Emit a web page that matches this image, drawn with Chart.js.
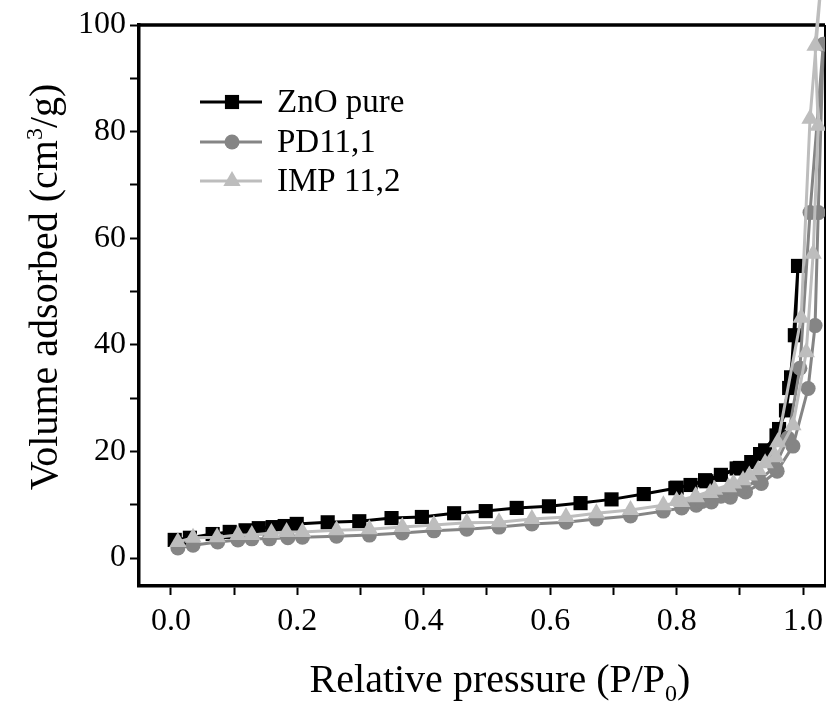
<!DOCTYPE html>
<html>
<head>
<meta charset="utf-8">
<script src="https://cdn.jsdelivr.net/npm/chart.js@4.4.0/dist/chart.umd.min.js"></script>
<style>
html, body { margin: 0; padding: 0; background: #fff; }
#wrap { position: relative; width: 835px; height: 702px; }
</style>
</head>
<body>
<div id="wrap"><canvas id="chart" width="835" height="702"></canvas></div>
<script>
'use strict';

// isotherm data: adsorption branch followed by desorption branch
const seriesNames = ['ZnO pure', 'PD11,1', 'IMP 11,2'];

const znoP = [0.006, 0.030, 0.066, 0.093, 0.118, 0.139, 0.161, 0.180, 0.199, 0.248,
    0.298, 0.349, 0.397, 0.448, 0.498, 0.547, 0.598, 0.648, 0.697, 0.748,
    0.798, 0.847, 0.900, 0.932, 0.958, 0.973, 0.981, 0.992,
    0.987, 0.978, 0.962, 0.940, 0.918, 0.895, 0.870, 0.845, 0.822, 0.800];
const znoV = [3.4, 3.8, 4.5, 4.9, 5.2, 5.6, 5.8, 6.0, 6.4, 6.7,
    6.9, 7.5, 7.7, 8.4, 8.8, 9.4, 9.7, 10.3, 11.0, 12.0,
    13.1, 14.4, 16.9, 19.5, 23.0, 27.7, 33.9, 54.8,
    41.8, 31.9, 24.2, 20.2, 18.0, 16.8, 15.6, 14.6, 13.7, 13.2];

const pdP = [0.011, 0.035, 0.074, 0.106, 0.128, 0.156, 0.185, 0.208, 0.262, 0.314,
    0.366, 0.416, 0.468, 0.519, 0.571, 0.625, 0.673, 0.727, 0.779, 0.808,
    0.831, 0.855, 0.885, 0.909, 0.934, 0.959, 0.984, 1.008, 1.019, 1.024, 1.032,
    1.011, 0.995, 0.976, 0.955, 0.930, 0.900, 0.870, 0.840, 0.810];
const pdV = [1.9, 2.4, 3.0, 3.4, 3.6, 3.6, 3.8, 3.9, 4.1, 4.3,
    4.7, 5.1, 5.4, 5.8, 6.4, 6.7, 7.3, 7.9, 8.8, 9.4,
    9.9, 10.5, 11.4, 12.4, 14.0, 16.3, 21.0, 31.8, 43.6, 64.8, 96.4,
    64.8, 35.6, 22.5, 17.0, 14.6, 12.9, 11.6, 10.6, 9.8];

const impP = [0.011, 0.035, 0.073, 0.106, 0.128, 0.159, 0.183, 0.208, 0.262, 0.314,
    0.366, 0.416, 0.468, 0.519, 0.571, 0.625, 0.673, 0.727, 0.779, 0.808,
    0.831, 0.853, 0.882, 0.905, 0.929, 0.957, 0.984, 1.005, 1.016, 1.024, 1.019, 1.030,
    1.011, 0.997, 0.960, 0.940, 0.915, 0.890, 0.860, 0.830, 0.800];
const impV = [3.0, 3.8, 3.9, 4.3, 4.3, 4.7, 4.9, 4.9, 5.2, 5.4,
    5.8, 6.2, 6.6, 6.7, 7.3, 7.7, 8.4, 9.0, 9.9, 10.5,
    11.4, 12.2, 13.3, 14.6, 16.5, 18.9, 24.9, 38.6, 57.1, 81.1, 96.1, 110,
    82.4, 45.1, 21.7, 17.8, 15.5, 14.0, 12.8, 11.6, 10.7];

const xTickValues = [0, 0.1, 0.2, 0.3, 0.4, 0.5, 0.6, 0.7, 0.8, 0.9, 1.0];
const xTickLabels = ['0.0', '', '0.2', '', '0.4', '', '0.6', '', '0.8', '', '1.0'];
const yTickValues = [0, 10, 20, 30, 40, 50, 60, 70, 80, 90, 100];
const yTickLabels = ['0', '', '20', '', '40', '', '60', '', '80', '', '100'];

const serif = "'Liberation Serif', 'Times New Roman', serif";

function toPoints (p, v)
{
    return p.map((x, i) => ({x, y: v[i]}));
}

const styles = [
    {color: '#000000', pointStyle: 'rect', radius: 10},
    {color: '#858585', pointStyle: 'circle', radius: 7.5},
    {color: '#bdbdbd', pointStyle: 'triangle', radius: 10}
];

function drawRich (ctx, parts, x, y, size)
{
    // parts: [{t, sub, sup}] - centered on x
    let total = 0;
    const widths = parts.map((p) =>
    {
        ctx.font = (p.sub || p.sup ? size * 0.6 : size) + 'px ' + serif;
        const w = ctx.measureText(p.t).width;
        total += w;
        return w;
    });
    let cx = x - total / 2;
    parts.forEach((p, i) =>
    {
        ctx.font = (p.sub || p.sup ? size * 0.6 : size) + 'px ' + serif;
        const dy = p.sub ? size * 0.22 : (p.sup ? -size * 0.38 : 0);
        ctx.fillText(p.t, cx, y + dy);
        cx += widths[i];
    });
}

const decorations = {
    id: 'decorations',
    beforeDatasetsDraw (chart)
    {
        const {ctx, chartArea: a} = chart;
        ctx.save();
        ctx.strokeStyle = '#000';
        ctx.lineWidth = 3.5;
        ctx.beginPath();
        ctx.moveTo(a.left - 1.75, a.top);
        ctx.lineTo(a.right, a.top);
        ctx.stroke();
        ctx.lineWidth = 2;
        ctx.beginPath();
        ctx.moveTo(a.right, a.top);
        ctx.lineTo(a.right, a.bottom);
        ctx.stroke();
        ctx.restore();
    },
    afterDraw (chart)
    {
        const {ctx} = chart;
        ctx.save();
        ctx.fillStyle = '#000';
        ctx.textAlign = 'left';
        ctx.textBaseline = 'alphabetic';

        // axis titles
        drawRich(ctx, [{t: 'Relative pressure (P/P'}, {t: '0', sub: true}, {t: ')'}], 500, 692, 40);
        ctx.save();
        ctx.translate(57, 287);
        ctx.rotate(-Math.PI / 2);
        drawRich(ctx, [{t: 'Volume adsorbed (cm'}, {t: '3', sup: true}, {t: '/g)'}], 0, 0, 40);
        ctx.restore();

        // legend
        const rows = [102, 142, 181];
        seriesNames.forEach((name, i) =>
        {
            const s = styles[i];
            const y = rows[i];
            ctx.strokeStyle = s.color;
            ctx.lineWidth = 3;
            ctx.beginPath();
            ctx.moveTo(200, y);
            ctx.lineTo(262, y);
            ctx.stroke();
            ctx.fillStyle = s.color;
            Chart.helpers.drawPoint(ctx, {pointStyle: s.pointStyle, radius: s.radius, borderWidth: 0, rotation: 0}, 232, y);
            ctx.fillStyle = '#000';
            ctx.font = '33px ' + serif;
            ctx.textBaseline = 'middle';
            ctx.fillText(name, 277, y + 1);
        });
        ctx.restore();
    }
};

const datasets = [[znoP, znoV], [pdP, pdV], [impP, impV]].map(([p, v], i) => ({
    label: seriesNames[i],
    data: toPoints(p, v),
    showLine: true,
    borderColor: styles[i].color,
    backgroundColor: styles[i].color,
    borderWidth: 3,
    pointStyle: styles[i].pointStyle,
    pointRadius: styles[i].radius,
    pointBorderWidth: 0,
    pointBackgroundColor: styles[i].color,
    order: 3 - i,
    clip: {left: 0, top: false, right: 0, bottom: 0}
}));

const axisTicks = (labels) => ({
    color: '#000',
    font: {family: serif, size: 32},
    autoSkip: false,
    maxRotation: 0,
    callback: (value, index) => labels[index]
});

new Chart(document.getElementById('chart'), {
    type: 'scatter',
    data: {datasets},
    options: {
        responsive: false,
        animation: false,
        layout: {padding: {top: 25, right: 2, left: 0, bottom: 0}},
        plugins: {legend: {display: false}, tooltip: {enabled: false}},
        scales: {
            x: {
                type: 'linear',
                min: -0.0505,
                max: 1.0347,
                afterBuildTicks: (scale) => { scale.ticks = xTickValues.map((value) => ({value})); },
                afterFit: (scale) => { scale.height = 116; },
                grid: {drawOnChartArea: false, drawTicks: true, tickLength: 9, tickWidth: 2, tickColor: '#000'},
                border: {display: true, width: 3.5, color: '#000'},
                ticks: Object.assign(axisTicks(xTickLabels), {padding: 7})
            },
            y: {
                type: 'linear',
                min: -5.25,
                max: 100,
                afterBuildTicks: (scale) => { scale.ticks = yTickValues.map((value) => ({value})); },
                afterFit: (scale) => { scale.width = 139; },
                grid: {drawOnChartArea: false, drawTicks: true, tickLength: 9, tickWidth: 2, tickColor: '#000'},
                border: {display: true, width: 3.5, color: '#000'},
                ticks: Object.assign(axisTicks(yTickLabels), {padding: 4})
            }
        }
    },
    plugins: [decorations]
});
</script>
</body>
</html>
